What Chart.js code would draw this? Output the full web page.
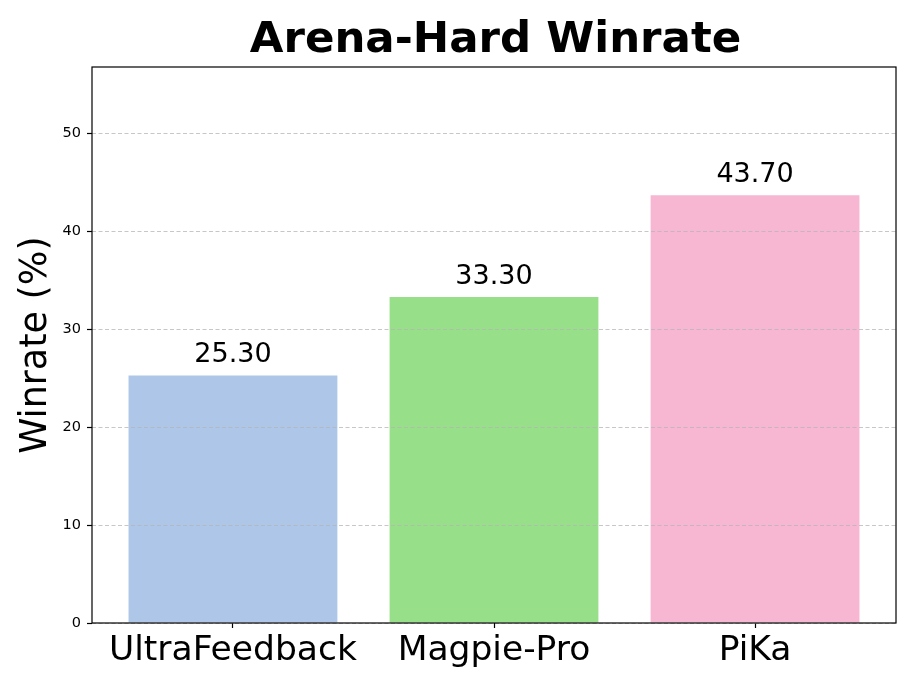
<!DOCTYPE html>
<html>
<head>
<meta charset="utf-8">
<script src="https://cdn.jsdelivr.net/npm/chart.js@4/dist/chart.umd.min.js"></script>
<style>
  html, body { margin: 0; padding: 0; background: #fff; }
  #chart { display: block; }
</style>
</head>
<body>
<canvas id="chart" width="913" height="685"></canvas>
<script>
// data
const categories = ['UltraFeedback', 'Magpie-Pro', 'PiKa'];
const winrates = [25.3, 33.3, 43.7];
const barColors = ['#aec7e8', '#98df8a', '#f7b6d2'];
const yTicks = [0, 10, 20, 30, 40, 50];
const yMax = 43.7 * 1.3;

const FONT = "'DejaVu Sans', sans-serif";

// title, frame and value labels
const decorPlugin = {
    id: 'decor',
    afterDraw(chart) {
        const { ctx, chartArea: a } = chart;
        ctx.save();
        ctx.strokeStyle = '#000';
        ctx.lineWidth = 1.2;
        ctx.strokeRect(a.left, a.top, a.right - a.left, a.bottom - a.top);

        ctx.fillStyle = '#000';
        ctx.textAlign = 'center';
        ctx.textBaseline = 'alphabetic';
        ctx.font = 'bold 43.5px ' + FONT;
        ctx.fillText('Arena-Hard Winrate', 495.5, 52);

        ctx.font = '27px ' + FONT;
        chart.getDatasetMeta(0).data.forEach((bar, i) => {
            ctx.fillText(winrates[i].toFixed(2), bar.x, bar.y - 13);
        });
        ctx.restore();
    }
};

new Chart(document.getElementById('chart'), {
    type: 'bar',
    data: {
        datasets: [{
            data: winrates.map((v, i) => ({ x: i, y: v })),
            backgroundColor: barColors,
            borderWidth: 0,
            barPercentage: 0.8,
            categoryPercentage: 1.0
        }]
    },
    options: {
        responsive: false,
        animation: false,
        events: [],
        layout: { padding: { top: 67, right: 17, left: 0, bottom: 0 } },
        plugins: { legend: { display: false }, tooltip: { enabled: false }, title: { display: false } },
        scales: {
            x: {
                type: 'linear',
                min: -0.54,
                max: 2.54,
                offset: false,
                afterBuildTicks: (s) => { s.ticks = categories.map((c, i) => ({ value: i })); },
                afterFit: (s) => { s.height = 62; },
                grid: { offset: false, drawOnChartArea: false, drawTicks: true, tickLength: 5, tickColor: '#000', tickWidth: 1.2 },
                border: { display: false },
                ticks: {
                    autoSkip: false,
                    maxRotation: 0,
                    padding: 2,
                    color: '#000',
                    font: { family: FONT, size: 34.5 },
                    callback: (v) => categories[v]
                }
            },
            y: {
                min: 0,
                max: yMax,
                afterBuildTicks: (s) => { s.ticks = yTicks.map(v => ({ value: v })); },
                afterFit: (s) => { s.width = 92; },
                grid: { z: 1, color: 'rgba(180,180,180,0.75)', lineWidth: 1, drawTicks: true, tickLength: 5, tickColor: '#000', tickWidth: 1.2, tickBorderDash: [] },
                border: { display: false, dash: [4, 2.5] },
                ticks: {
                    padding: 6,
                    color: '#000',
                    font: { family: FONT, size: 14.5 }
                },
                title: {
                    display: true,
                    text: 'Winrate (%)',
                    color: '#000',
                    font: { family: FONT, size: 36.5 },
                    padding: { top: 15, bottom: 0 }
                }
            }
        }
    },
    plugins: [decorPlugin]
});
</script>
</body>
</html>
